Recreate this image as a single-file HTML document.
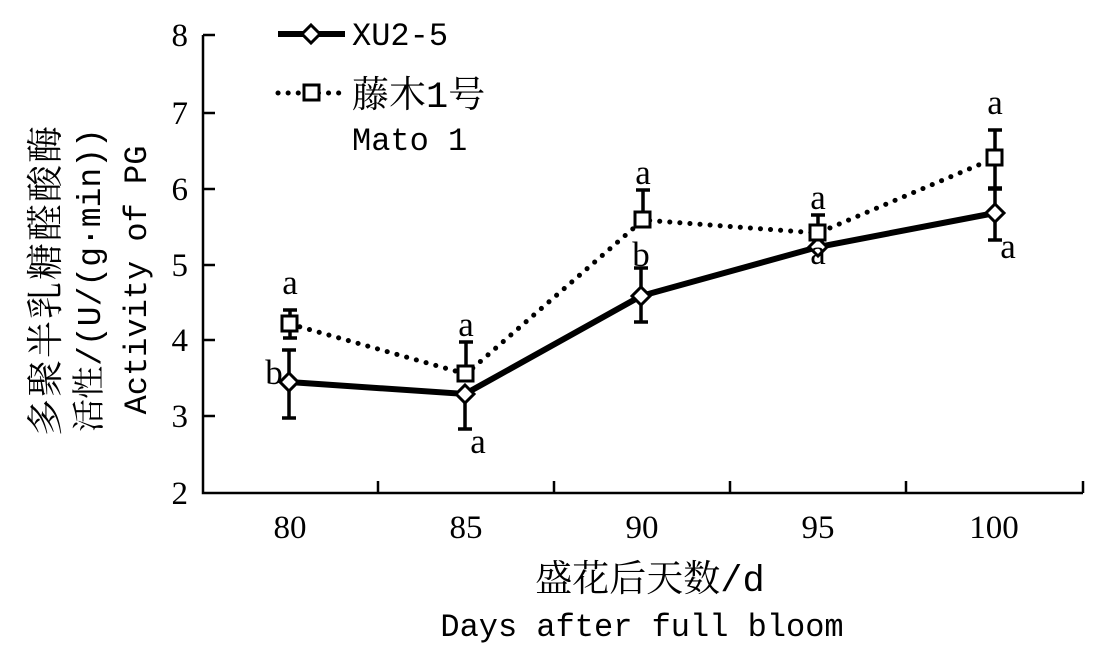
<!DOCTYPE html>
<html><head><meta charset="utf-8"><style>body{margin:0;background:#fff}svg{display:block}</style></head>
<body>
<svg width="1102" height="663" xmlns="http://www.w3.org/2000/svg" font-family="'Liberation Serif','Noto Serif CJK SC',serif">
<g stroke="#000" stroke-width="2.5" fill="none">
<path d="M203,35 V493 H1083"/>
<path d="M203,35h12M203,113h12M203,189h12M203,265h12M203,340h12M203,416h12"/>
<path d="M378,493v-12M554,493v-12M730,493v-12M906,493v-12M1083,493v-12"/>
</g>
<g font-size="33" text-anchor="end">
<text x="188" y="46">8</text><text x="188" y="124">7</text><text x="188" y="200">6</text><text x="188" y="276">5</text><text x="188" y="351">4</text><text x="188" y="427">3</text><text x="188" y="504">2</text>
</g>
<g font-size="33" text-anchor="middle">
<text x="290" y="538">80</text><text x="466" y="538">85</text><text x="642" y="538">90</text><text x="818" y="538">95</text><text x="994" y="538">100</text>
</g>
<text x="650" y="591" font-size="37" text-anchor="middle" font-family="'Liberation Mono','Noto Serif CJK SC',monospace">盛花后天数/d</text>
<text x="642" y="636" font-size="32" text-anchor="middle" font-family="'Liberation Mono',monospace">Days after full bloom</text>
<g transform="translate(58,280) rotate(-90)" text-anchor="middle" font-family="'Liberation Mono','Noto Serif CJK SC',monospace">
<text x="0" y="0" font-size="37" letter-spacing="2">多聚半乳糖醛酸酶</text>
<text x="0" y="42" font-size="33">活性/(U/(g·min))</text>
<text x="0" y="88" font-size="32">Activity of PG</text>
</g>
<g stroke="#000" stroke-width="3.5">
<path d="M289,350V418M282,350h14M282,418h14"/>
<path d="M465,403V429M458,429h14"/>
<path d="M641,268V322M634,268h14M634,322h14"/>
<path d="M995,189V240M988,189h14M988,240h14"/>
<path d="M290,310V338M283,310h14M283,338h14"/>
<path d="M466,342V374M459,342h14M459,370h14"/>
<path d="M643,190V220M636,190h14"/>
<path d="M818,215V233M811,215h14"/>
<path d="M995,130V190M988,130h14M988,188h14"/>
</g>
<polyline points="289,382 465,394 641,296 818,247 995,213" fill="none" stroke="#000" stroke-width="6"/>
<polyline points="290,324 466,374 643,220 818,233 995,158" fill="none" stroke="#000" stroke-width="5" stroke-dasharray="0.1 10" stroke-linecap="round"/>
<g fill="#fff" stroke="#000" stroke-width="3">
<path d="M289,373l9,9-9,9-9-9z"/><path d="M465,385l9,9-9,9-9-9z"/><path d="M641,287l9,9-9,9-9-9z"/><path d="M818,238l9,9-9,9-9-9z"/><path d="M995,204l9,9-9,9-9-9z"/>
<rect x="282" y="316" width="15" height="15"/><rect x="458" y="366" width="15" height="15"/><rect x="635" y="212" width="15" height="15"/><rect x="810" y="225" width="15" height="15"/><rect x="987" y="150" width="15" height="15"/>
</g>
<g font-size="35" text-anchor="middle">
<text x="290" y="294">a</text><text x="274" y="384">b</text>
<text x="466" y="336">a</text><text x="478" y="453">a</text>
<text x="643" y="184">a</text><text x="641" y="266">b</text>
<text x="818" y="209">a</text><text x="818" y="264">a</text>
<text x="995" y="114">a</text><text x="1008" y="258">a</text>
</g>
<path d="M278,34H345" stroke="#000" stroke-width="6"/>
<path d="M311,25l9,9-9,9-9-9z" fill="#fff" stroke="#000" stroke-width="3"/>
<path d="M278,93H340" stroke="#000" stroke-width="5" stroke-dasharray="0.1 10" stroke-linecap="round"/>
<rect x="304" y="85" width="15" height="15" fill="#fff" stroke="#000" stroke-width="3"/>
<g font-family="'Liberation Mono','Noto Serif CJK SC',monospace">
<text x="352" y="45" font-size="32">XU2-5</text>
<text x="352" y="107" font-size="37">藤木1号</text>
<text x="352" y="150" font-size="32">Mato 1</text>
</g>
</svg>
</body></html>
